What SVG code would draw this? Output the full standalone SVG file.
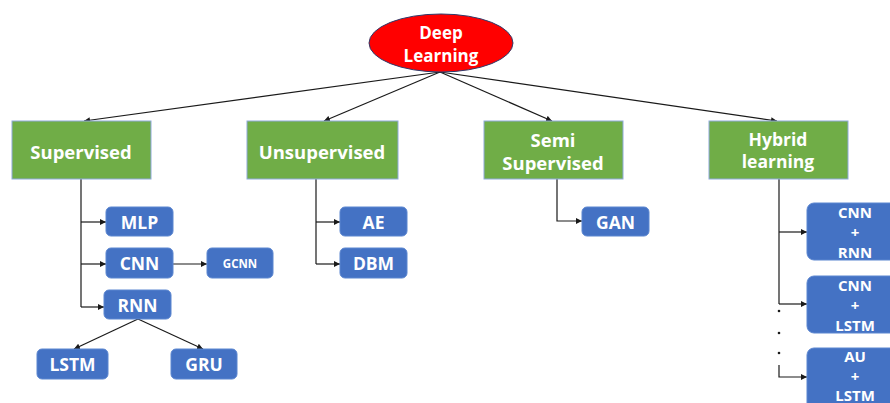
<svg xmlns="http://www.w3.org/2000/svg" width="890" height="403" viewBox="0 0 890 403">
  <defs>
    <marker id="arrow" viewBox="0 0 10 10" refX="10" refY="5" markerWidth="6" markerHeight="6" markerUnits="userSpaceOnUse" orient="auto">
      <path d="M0,0 L10,5 L0,10 z" fill="#1a1a1a"/>
    </marker>
    <style>
      .cat { fill: #70AD47; stroke: #8FAADC; stroke-width: 1; }
      .leaf { fill: #4472C4; stroke: #5B86D0; stroke-width: 1; }
      .t { font-family: "Open Sans", "Liberation Sans", sans-serif; font-weight: bold; fill: #ffffff; text-anchor: middle; dominant-baseline: central; }
      .big { font-size: 18.5px; }
      .root { font-size: 17px; }
      .mid { font-size: 17.5px; }
      .stack { font-size: 15px; }
      .small { font-size: 11.5px; }
      .link { fill: none; stroke: #1a1a1a; stroke-width: 1.2; }
      .arr { marker-end: url(#arrow); }
    </style>
  </defs>
  <rect width="890" height="403" fill="#ffffff"/>

  <!-- connectors -->
  <g id="connectors">
    <line class="link arr" x1="440" y1="72" x2="84" y2="121"/>
    <line class="link arr" x1="440" y1="72" x2="324" y2="121"/>
    <line class="link arr" x1="440" y1="72" x2="552" y2="121"/>
    <line class="link arr" x1="440" y1="72" x2="777" y2="121"/>

    <path class="link" d="M81,179 V307"/>
    <path class="link arr" d="M81,222 H106"/>
    <path class="link arr" d="M81,264 H106"/>
    <path class="link arr" d="M81,307 H104"/>
    <path class="link arr" d="M173,264 H207"/>
    <line class="link arr" x1="138" y1="319" x2="74" y2="349"/>
    <line class="link arr" x1="138" y1="319" x2="203" y2="349"/>

    <path class="link" d="M316,179 V264"/>
    <path class="link arr" d="M316,222 H340"/>
    <path class="link arr" d="M316,264 H340"/>

    <path class="link arr" d="M557,179 V221 H582"/>

    <path class="link" d="M779,179 V304"/>
    <path class="link arr" d="M779,232 H807"/>
    <path class="link arr" d="M779,304 H807"/>
    <circle cx="779" cy="311" r="1.3" fill="#1a1a1a"/>
    <circle cx="779" cy="333" r="1.3" fill="#1a1a1a"/>
    <circle cx="779" cy="353" r="1.3" fill="#1a1a1a"/>
    <path class="link arr" d="M779,365 V377 H807"/>
  </g>

  <!-- root -->
  <g id="deep-learning">
    <ellipse cx="441" cy="43" rx="72" ry="29" fill="#FF0000" stroke="#2F3B6B" stroke-width="1"/>
    <text class="t root" x="441" y="32">Deep</text>
    <text class="t root" x="441" y="55">Learning</text>
  </g>

  <!-- categories -->
  <g id="supervised">
    <rect class="cat" x="12" y="121" width="139" height="58"/>
    <text class="t big" x="81" y="151">Supervised</text>
  </g>
  <g id="unsupervised">
    <rect class="cat" x="247" y="121" width="151" height="58"/>
    <text class="t big" x="322" y="151">Unsupervised</text>
  </g>
  <g id="semi-supervised">
    <rect class="cat" x="484" y="121" width="139" height="58"/>
    <text class="t big" x="553" y="139">Semi</text>
    <text class="t big" x="553" y="162">Supervised</text>
  </g>
  <g id="hybrid-learning">
    <rect class="cat" x="709" y="121" width="139" height="58"/>
    <text class="t mid" x="778" y="139">Hybrid</text>
    <text class="t mid" x="778" y="161">learning</text>
  </g>

  <!-- supervised models -->
  <g id="mlp">
    <rect class="leaf" x="106" y="207" width="67" height="29" rx="5"/>
    <text class="t mid" x="139.5" y="221.5">MLP</text>
  </g>
  <g id="cnn">
    <rect class="leaf" x="106" y="248" width="67" height="30" rx="5"/>
    <text class="t mid" x="139.5" y="263">CNN</text>
  </g>
  <g id="gcnn">
    <rect class="leaf" x="207" y="248" width="66" height="30" rx="5"/>
    <text class="t small" x="240" y="263">GCNN</text>
  </g>
  <g id="rnn">
    <rect class="leaf" x="104" y="290" width="67" height="29" rx="5"/>
    <text class="t mid" x="137.5" y="304.5">RNN</text>
  </g>
  <g id="lstm">
    <rect class="leaf" x="37" y="349" width="71" height="30" rx="5"/>
    <text class="t mid" x="72.5" y="364">LSTM</text>
  </g>
  <g id="gru">
    <rect class="leaf" x="171" y="349" width="66" height="30" rx="5"/>
    <text class="t mid" x="204" y="364">GRU</text>
  </g>

  <!-- unsupervised models -->
  <g id="ae">
    <rect class="leaf" x="340" y="207" width="67" height="29" rx="5"/>
    <text class="t mid" x="373.5" y="221.5">AE</text>
  </g>
  <g id="dbm">
    <rect class="leaf" x="340" y="248" width="67" height="30" rx="5"/>
    <text class="t mid" x="373.5" y="263">DBM</text>
  </g>

  <!-- semi-supervised model -->
  <g id="gan">
    <rect class="leaf" x="582" y="207" width="67" height="29" rx="5"/>
    <text class="t mid" x="615.5" y="221.5">GAN</text>
  </g>

  <!-- hybrid models -->
  <g id="cnn-rnn">
    <rect class="leaf" x="807" y="203" width="96" height="57" rx="7"/>
    <text class="t stack" x="855" y="212">CNN</text>
    <text class="t stack" x="855" y="232">+</text>
    <text class="t stack" x="855" y="252">RNN</text>
  </g>
  <g id="cnn-lstm">
    <rect class="leaf" x="807" y="276" width="96" height="57" rx="7"/>
    <text class="t stack" x="855" y="285">CNN</text>
    <text class="t stack" x="855" y="305">+</text>
    <text class="t stack" x="855" y="325">LSTM</text>
  </g>
  <g id="au-lstm">
    <rect class="leaf" x="807" y="348" width="96" height="70" rx="7"/>
    <text class="t stack" x="855" y="356">AU</text>
    <text class="t stack" x="855" y="376">+</text>
    <text class="t stack" x="855" y="395">LSTM</text>
  </g>
</svg>
